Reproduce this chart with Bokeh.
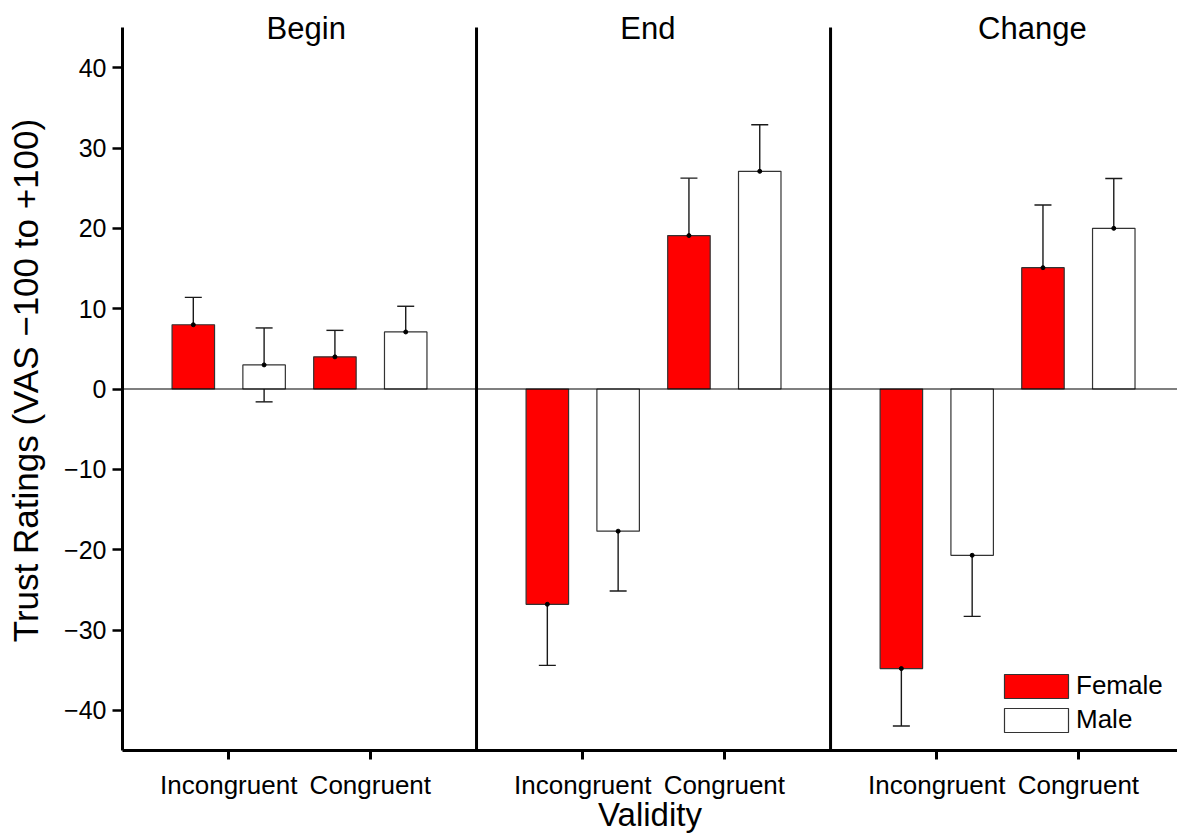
from bokeh.plotting import figure
from bokeh.models import (ColumnDataSource, Range1d, FixedTicker, Span, Whisker,
                          TeeHead, Legend, LegendItem)
from bokeh.core.properties import value
from bokeh.embed import file_html
from bokeh.resources import INLINE

# ---- data: mean trust rating and error half-width per panel, per validity ----
panels = ["Begin", "End", "Change"]
validity = ["Incongruent", "Congruent"]
genders = ["Female", "Male"]

female_mean = [[8.0, 4.0], [-26.8, 19.1], [-34.8, 15.1]]
female_err = [[3.4, 3.3], [7.6, 7.15], [7.15, 7.8]]
male_mean = [[3.0, 7.1], [-17.7, 27.1], [-20.7, 20.0]]
male_err = [[4.6, 3.2], [7.45, 5.8], [7.6, 6.2]]

y_ticks = [-40, -30, -20, -10, 0, 10, 20, 30, 40]

# ---- layout constants ----
FONT = "Liberation Sans"
PANEL_W = 10.0          # x units per panel
GROUP_POS = [3.0, 7.0]  # validity group centres inside a panel
BAR_SHIFT = {"Female": -1.0, "Male": 1.0}
BAR_W = 1.2
TITLE_X = [5.19, 14.84, 25.7]
Y_MIN, Y_MAX = -45, 45
PX = 8.03                       # pixels per y unit
TITLE_ROOM = 17 / PX            # strip above the axes that holds the panel titles
TITLE_MID = Y_MAX - 0.6 / PX    # vertical middle of the title text

def build_source(gender, means, errs):
    xs, m, up, lo = [], [], [], []
    for pi in range(len(panels)):
        for vi in range(len(validity)):
            xs.append(pi * PANEL_W + GROUP_POS[vi] + BAR_SHIFT[gender])
            m.append(means[pi][vi])
            up.append(means[pi][vi] + errs[pi][vi])
            lo.append(means[pi][vi] - errs[pi][vi])
    return ColumnDataSource(dict(x=xs, mean=m, upper=up, lower=lo))

src_f = build_source("Female", female_mean, female_err)
src_m = build_source("Male", male_mean, male_err)

p = figure(width=1177, height=835, output_backend="svg", toolbar_location=None,
           x_range=Range1d(0, 29.8), y_range=Range1d(Y_MIN, Y_MAX + TITLE_ROOM),
           min_border_left=122, min_border_right=0, min_border_top=10,
           min_border_bottom=0)
p.outline_line_color = None
p.xgrid.visible = False
p.ygrid.visible = False
p.background_fill_color = "white"
p.border_fill_color = "white"

# bars
r_f = p.vbar(x="x", top="mean", bottom=0, width=BAR_W, source=src_f,
             fill_color="#ff0000", line_color="#333333", line_width=1.2)
r_m = p.vbar(x="x", top="mean", bottom=0, width=BAR_W, source=src_m,
             fill_color="white", line_color="#333333", line_width=1.2)

# zero reference line
p.add_layout(Span(location=0, dimension="width", line_color="black", line_width=1.2))

# error bars and centre dots
for src in (src_f, src_m):
    p.add_layout(Whisker(base="x", upper="upper", lower="lower", source=src,
                         line_color="#1a1a1a", line_width=1.4,
                         upper_head=TeeHead(size=17, line_color="#1a1a1a", line_width=1.4),
                         lower_head=TeeHead(size=17, line_color="#1a1a1a", line_width=1.4)))
    p.scatter(x="x", y="mean", source=src, size=4, color="black")

# panel separators, running over the axis span only
sep_x = [k * PANEL_W for k in range(1, len(panels))]
p.segment(x0=sep_x, x1=sep_x, y0=[Y_MIN] * len(sep_x), y1=[Y_MAX] * len(sep_x),
          line_color="black", line_width=3)

# panel titles
p.text(x=TITLE_X, y=[TITLE_MID] * len(panels), text=panels,
       text_align="center", text_baseline="middle", text_font=value(FONT),
       text_font_size="31px", text_color="black")

# y axis
p.yaxis.bounds = (Y_MIN, Y_MAX)
p.yaxis.ticker = FixedTicker(ticks=y_ticks)
p.yaxis.major_label_overrides = {t: (f"\u2212{abs(t)}" if t < 0 else str(t)) for t in y_ticks}
p.yaxis.axis_label = "Trust Ratings (VAS \u2212100 to +100)"
p.yaxis.axis_label_text_font = FONT
p.yaxis.axis_label_text_font_size = "35px"
p.yaxis.axis_label_text_font_style = "normal"
p.yaxis.axis_label_text_color = "black"
p.yaxis.axis_label_standoff = 16
p.yaxis.major_label_text_font = FONT
p.yaxis.major_label_text_font_size = "25px"
p.yaxis.major_label_text_color = "black"
p.yaxis.major_label_standoff = 6
p.yaxis.axis_line_width = 3
p.yaxis.major_tick_line_width = 2.5
p.yaxis.major_tick_out = 10
p.yaxis.major_tick_in = 0
p.yaxis.minor_tick_line_color = None

# x axis
x_ticks = [pi * PANEL_W + g for pi in range(len(panels)) for g in GROUP_POS]
p.xaxis.ticker = FixedTicker(ticks=x_ticks)
p.xaxis.major_label_overrides = {x_ticks[i]: validity[i % 2] for i in range(len(x_ticks))}
p.xaxis.axis_label = "Validity"
p.xaxis.axis_label_text_font = FONT
p.xaxis.axis_label_text_font_size = "33px"
p.xaxis.axis_label_text_font_style = "normal"
p.xaxis.axis_label_text_color = "black"
p.xaxis.axis_label_standoff = -7
p.xaxis.major_label_text_font = FONT
p.xaxis.major_label_text_font_size = "26px"
p.xaxis.major_label_text_color = "black"
p.xaxis.major_label_standoff = 10
p.xaxis.axis_line_width = 3
p.xaxis.major_tick_line_width = 3
p.xaxis.major_tick_out = 9
p.xaxis.major_tick_in = 0
p.xaxis.minor_tick_line_color = None

# legend (area swatches are inset by 10% of the glyph box on each side)
legend = Legend(items=[LegendItem(label="Female", renderers=[r_f]),
                       LegendItem(label="Male", renderers=[r_m])],
                location=(874, 15), glyph_width=80, glyph_height=30,
                label_standoff=0, spacing=3, padding=0, margin=0,
                label_height=24, border_line_color=None,
                background_fill_alpha=0, label_text_font=FONT,
                label_text_font_size="26px", label_text_color="black")
p.add_layout(legend)

open("out.html", "w").write(file_html(p, INLINE))
